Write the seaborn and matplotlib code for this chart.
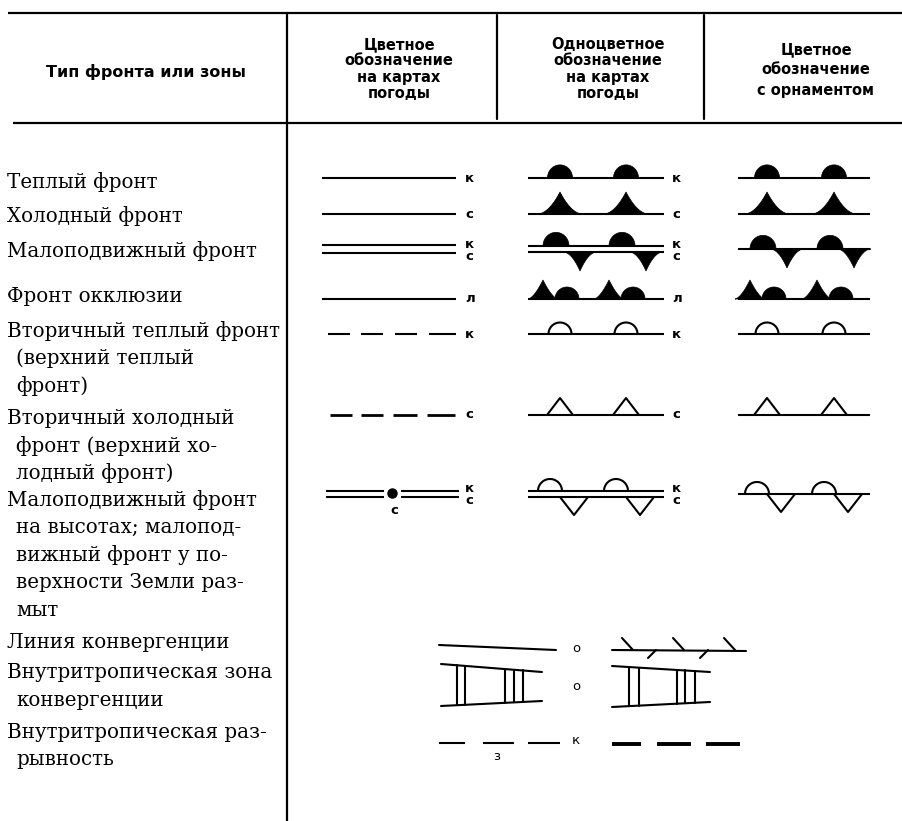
import numpy as np
import matplotlib
matplotlib.use("Agg")
import matplotlib.pyplot as plt
import seaborn as sns

sns.set_style("white")
plt.rcParams["font.family"] = ["DejaVu Serif"]
plt.rcParams["text.color"] = "black"

# ---- table content ----
header_titles = [
    "Тип фронта или зоны",
    "Цветное\nобозначение\nна картах\nпогоды",
    "Одноцветное\nобозначение\nна картах\nпогоды",
    "Цветное\nобозначение\nс орнаментом",
]
front_labels = [
    "Теплый фронт",
    "Холодный фронт",
    "Малоподвижный фронт",
    "Фронт окклюзии",
    "Вторичный теплый фронт\n(верхний теплый\nфронт)",
    "Вторичный холодный\nфронт (верхний хо-\nлодный фронт)",
    "Малоподвижный фронт\nна высотах; малопод-\nвижный фронт у по-\nверхности Земли раз-\nмыт",
    "Линия конвергенции",
    "Внутритропическая зона\nконвергенции",
    "Внутритропическая раз-\nрывность",
]
front_kinds = ["warm", "cold", "stationary", "occluded",
               "warm_upper", "cold_upper", "stationary_upper"]
color_codes = ["к", "с", "к/с", "л", "к", "с", "к/с", "о", "о", "к"]

# ---- layout (pixels) ----
label_y = [182, 216, 251, 296, 331, 418, 500, 642, 673, 732]
line_gap = 27.5
symbol_y = [178, 214, 249, 299, 334, 415, 494]

fig = plt.figure(figsize=(9.03, 8.21), dpi=100)
ax = fig.add_axes([0, 0, 1, 1])
ax.set_xlim(0, 903)
ax.set_ylim(821, 0)
ax.axis("off")

K = "black"
LW = 1.5
SANS = "DejaVu Sans"


def hline(x0, x1, y, lw=LW, **kw):
    ax.plot([x0, x1], [y, y], color=K, lw=lw, solid_capstyle="butt", **kw)


def dome(xc, y, r, filled=True, up=True, stretch=1.0):
    th = np.linspace(np.pi, 0, 40)
    xs = xc + r * np.cos(th)
    ys = y - stretch * r * np.sin(th) * (1 if up else -1)
    if filled:
        ax.fill(xs, ys, color=K, lw=0.5)
    else:
        ax.plot(xs, ys, color=K, lw=LW)


def spike(xc, y, hw, h, up=True, filled=True, power=2.4):
    t = np.linspace(0, 1, 30)
    rise = h * t ** power
    xs = np.concatenate([xc - hw * (1 - t), xc + hw * (1 - t[::-1])])
    r = np.concatenate([rise, rise[::-1]])
    ys = y - r if up else y + r
    if filled:
        ax.fill(xs, ys, color=K, lw=0.5)
    else:
        ax.plot(xs, ys, color=K, lw=LW)


def letter(x, y, txt, ha="left", bold=True):
    ax.text(x, y, txt, fontsize=9.5, family=SANS, weight="bold" if bold else "normal",
            va="center", ha=ha)


def code(x, y, txt):
    if "/" in txt:
        a, b = txt.split("/")
        letter(x, y - 5, a)
        letter(x, y + 7, b)
    else:
        letter(x, y, txt)


# ---- rules ----
hline(8, 903, 13, lw=1.6)
hline(13, 903, 123, lw=1.6)
ax.plot([287, 287], [13, 821], color=K, lw=1.6)
for xv in (497, 704):
    ax.plot([xv, xv], [15, 119], color=K, lw=1.6)

# ---- header ----
ax.text(146, 72, header_titles[0], ha="center", va="center", fontsize=11.5,
        family=SANS, weight="bold")
for xc, t in zip((399, 608), header_titles[1:3]):
    ax.text(xc, 69, t, ha="center", va="center", fontsize=10.5, family=SANS,
            weight="bold", linespacing=1.1, multialignment="center")
ax.text(816, 70, header_titles[3], ha="center", va="center", fontsize=10.5, family=SANS,
        weight="bold", linespacing=1.45, multialignment="center")

# ---- row labels ----
for y0, lab in zip(label_y, front_labels):
    for i, ln in enumerate(lab.split("\n")):
        ax.text(7 if i == 0 else 16, y0 + i * line_gap, ln, fontsize=14.3,
                va="center", ha="left")

# ---- column 2: coloured lines ----
for kind, y, c in zip(front_kinds, symbol_y, color_codes):
    if kind in ("warm", "cold", "occluded"):
        hline(322, 456, y)
    elif kind == "stationary":
        hline(322, 456, y - 4)
        hline(322, 456, y + 4)
    elif kind == "warm_upper":
        for a, b in [(328, 350), (361, 383), (395, 417), (429, 456)]:
            hline(a, b, y)
    elif kind == "cold_upper":
        for a, b in [(330, 352), (361, 383), (393, 417), (427, 455)]:
            hline(a, b, y, lw=2.0)
    elif kind == "stationary_upper":
        for a, b in [(326, 384), (401, 459)]:
            hline(a, b, y - 3)
            hline(a, b, y + 3)
        ax.plot(392, y - 1, "o", color=K, ms=6.5)
        letter(394, y + 16, "с", ha="center")
    code(465, y, c)


# ---- column 3 (monochrome) and column 4 (ornament) ----
def ornament(kind, y, x0, x1, pos, double):
    p1, p2 = pos
    if double:
        hline(x0, x1, y - 3)
        hline(x0, x1, y + 3)
        ytop, ybot = y - 3, y + 3
    else:
        hline(x0, x1, y)
        ytop = ybot = y
    if kind == "warm":
        for p in (p1, p2):
            dome(p, ytop, 12.5, stretch=1.05)
    elif kind == "cold":
        for p in (p1, p2):
            spike(p, ytop, 23, 22, power=2.0)
    elif kind == "stationary":
        for p in (p1, p2):
            dome(p - 4, ytop, 13, stretch=1.05)
            spike(p + 20, ybot, 17, 19, up=False, power=2.0)
    elif kind == "occluded":
        for p in (p1, p2):
            spike(p - 17, ytop, 15, 19, power=1.6)
            dome(p + 7, ytop, 12)
    elif kind == "warm_upper":
        for p in (p1, p2):
            dome(p, ytop, 11.5, filled=False)
    elif kind == "cold_upper":
        for p in (p1, p2):
            spike(p, ytop, 13, 17, filled=False, power=1.0)
    elif kind == "stationary_upper":
        for p in (p1, p2):
            dome(p - 10, ytop, 12, filled=False)
            spike(p + 14, ybot, 14, 18, up=False, filled=False, power=1.0)


col3_pos = (560, 626)
col4_pos = (767, 834)
for kind, y, c in zip(front_kinds, symbol_y, color_codes):
    dbl = kind in ("stationary", "stationary_upper")
    ornament(kind, y, 528, 664, col3_pos, dbl)
    code(672, y, c)
    ornament(kind, y, 738, 870, col4_pos, False)

# ---- convergence zones (merged columns) ----
y_conv, y_itcz, y_disc = 648, 686, 743
# line of convergence
ax.plot([439, 556], [645, 650], color=K, lw=LW)
letter(576, y_conv, color_codes[7], ha="center", bold=False)
ax.plot([612, 746], [650, 651], color=K, lw=LW)
for a in (622, 673, 724):
    ax.plot([a, a + 11], [638, 650], color=K, lw=LW)
for a in (656, 708):
    ax.plot([a, a - 8], [650, 658], color=K, lw=LW)


# intertropical convergence zone (ladders)
def ladder(x0, x1, top, bot, bars):
    ax.plot([x0, x1], top, color=K, lw=LW)
    ax.plot([x0, x1], bot, color=K, lw=LW)
    for b in bars:
        f = (b - x0) / (x1 - x0)
        ax.plot([b, b], [top[0] + f * (top[1] - top[0]), bot[0] + f * (bot[1] - bot[0])],
                color=K, lw=LW)


ladder(441, 542, (664, 672), (706, 701), (457, 465, 505, 514, 523))
letter(576, y_itcz, color_codes[8], ha="center", bold=False)
ladder(612, 710, (666, 672), (707, 702), (629, 639, 677, 685, 695))

# intertropical discontinuity
for a, b in [(439, 465), (483, 514), (528, 560)]:
    hline(a, b, y_disc)
letter(497, 756, "з", ha="center", bold=False)
letter(576, 740, color_codes[9], ha="center", bold=False)
for a, b in [(612, 641), (657, 691), (706, 740)]:
    hline(a, b, y_disc + 1, lw=2.8)

fig.savefig("out.png", dpi=100, facecolor="white")
